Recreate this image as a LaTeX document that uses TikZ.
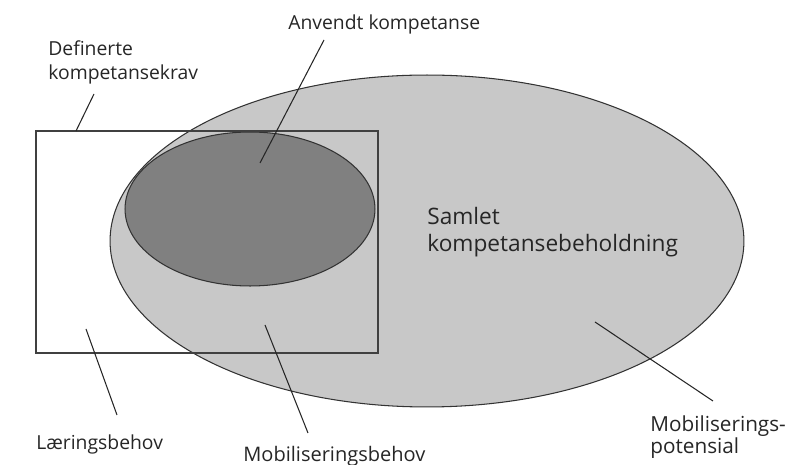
\documentclass[tikz,border=0pt]{standalone}
\usepackage{fontspec}
\setmainfont{Open Sans}
\usetikzlibrary{shapes.geometric}
\definecolor{poolgray}{HTML}{C8C8C8}
\definecolor{usedgray}{HTML}{808080}
\tikzset{
  area/.style={ellipse, draw=black!80, line width=0.6pt, fill=#1, inner sep=0pt},
  area/.default=poolgray,
  frame/.style={rectangle, draw=black!75, line width=0.7pt, inner sep=0pt},
  lbl/.style={font=\fontsize{11}{13.7}\selectfont, align=left, inner sep=0pt,
              anchor=base west, text=black!85},
  pointer/.style={line width=0.6pt, draw=black!85},
}

\begin{document}
\begin{tikzpicture}[x=0.02cm, y=-0.02cm]
  \useasboundingbox (0,0) rectangle (789,465);
  % areas
  \node[area=poolgray, minimum width=12.68cm, minimum height=6.64cm] (pool) at (427,241) {};
  \node[area=usedgray, minimum width=5cm, minimum height=3.08cm] (used) at (250,209) {};
  \node[frame, minimum width=6.84cm, minimum height=4.44cm] (krav) at (207,242) {};
  % labels (base = last line)
  \node[lbl] (deflbl) at (48,80) {Definerte\\kompetansekrav};
  \node[lbl] (anvlbl) at (288,30) {Anvendt kompetanse};
  \node[lbl, font=\fontsize{12.9}{15.4}\selectfont] (samlbl) at (427,252) {Samlet\\kompetansebeholdning};
  \node[lbl] (larlbl) at (36,450) {Læringsbehov};
  \node[lbl, font=\fontsize{11.4}{13.7}\selectfont] (mblbl) at (243,462) {Mobiliseringsbehov};
  \node[lbl, font=\fontsize{11.8}{12.8}\selectfont] (mplbl) at (650,454) {Mobiliserings-\\potensial};
  % pointer ends
  \coordinate (defA) at (94,94);   \coordinate (defB) at (76,131);
  \coordinate (anvA) at (324,40);  \coordinate (anvB) at (260,163);
  \coordinate (larA) at (117,415); \coordinate (larB) at (86,329);
  \coordinate (mbA) at (308,433);  \coordinate (mbB) at (265,325);
  \coordinate (mpA) at (713,401);  \coordinate (mpB) at (595,322);
  \foreach \p in {def, anv, lar, mb, mp}
    \draw[pointer] (\p A) -- (\p B);
\end{tikzpicture}
\end{document}
